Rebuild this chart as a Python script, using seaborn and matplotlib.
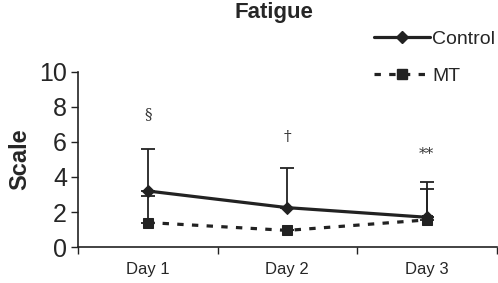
import numpy as np
import pandas as pd
import seaborn as sns

import matplotlib
matplotlib.use('Agg')
import matplotlib.pyplot as plt
from matplotlib.lines import Line2D

days = ["Day 1", "Day 2", "Day 3"]
control = [3.2, 2.25, 1.7]
control_err = [2.4, 2.25, 2.0]
mt = [1.4, 0.95, 1.55]
mt_err = [1.5, 0.0, 1.75]
marks = ["§", "†", "**"]
mark_y = [7.6, 6.3, 5.3]

sns.set_style("white")
plt.rcParams['font.family'] = ['Liberation Sans', 'DejaVu Sans']

df = pd.DataFrame({
    "day": days * 2,
    "x": list(range(len(days))) * 2,
    "value": control + mt,
    "group": ["Control"] * 3 + ["MT"] * 3,
})

fig = plt.figure(figsize=(4.98, 2.83), dpi=100)
ax = fig.add_axes([0.157, 0.127, 0.84, 0.619])

col = "#222222"
dash = (2.0, 2.6)
sns.lineplot(data=df, x="x", y="value", hue="group", style="group",
             markers={"Control": "D", "MT": "s"},
             dashes={"Control": "", "MT": dash},
             palette={"Control": col, "MT": col},
             markersize=6.5, linewidth=2.3, legend=False, ax=ax)
for line in ax.get_lines():
    line.set_markeredgecolor(col)

# upper error bars only
xs = np.arange(len(days))
ax.errorbar(xs, control, yerr=[np.zeros(3), control_err], fmt="none",
            ecolor=col, elinewidth=1.3, capsize=5, capthick=1.3)
ax.errorbar(xs, mt, yerr=[np.zeros(3), mt_err], fmt="none",
            ecolor=col, elinewidth=1.3, capsize=5, capthick=1.3)

for x, m, y in zip(xs, marks, mark_y):
    ax.text(x, y, m, ha="center", va="center", fontsize=11, color="#333333",
            family=["DejaVu Serif"])

ax.set_xlim(-0.5, 2.5)
ax.set_ylim(0, 10)
ax.set_yticks([0, 2, 4, 6, 8, 10])
ax.set_xticks([-0.5, 0.5, 1.5, 2.5])
ax.set_xticklabels([])
ax.set_xticks(xs, minor=True)
ax.set_xticklabels(days, minor=True, fontsize=12)
ax.tick_params(axis="x", which="major", length=5, width=1, direction="out",
               bottom=True, color=col)
ax.tick_params(axis="x", which="minor", length=0, pad=11)
ax.tick_params(axis="y", length=5, width=1, direction="out", left=True,
               labelsize=18, color=col, pad=3)
sns.despine(ax=ax)
for s in ["left", "bottom"]:
    ax.spines[s].set_color(col)
    ax.spines[s].set_linewidth(1.2)

ax.set_xlabel("")
ax.set_ylabel("Scale", fontsize=17, fontweight="bold", labelpad=6)
fig.text(0.551, 0.955, "Fatigue", ha="center", va="center", fontsize=16,
         fontweight="bold")

handles = [
    Line2D([], [], color=col, lw=2.3, marker="D", markersize=6.5),
    Line2D([], [], color=col, lw=2.3, ls=(0, dash), marker="s", markersize=6.5),
]
fig.legend(handles, ["Control", "MT"], loc="upper right",
           bbox_to_anchor=(1.03, 0.955), frameon=False, fontsize=14,
           labelspacing=1.0, handlelength=2.9, handletextpad=0.1)

fig.savefig("out.png", dpi=100)
